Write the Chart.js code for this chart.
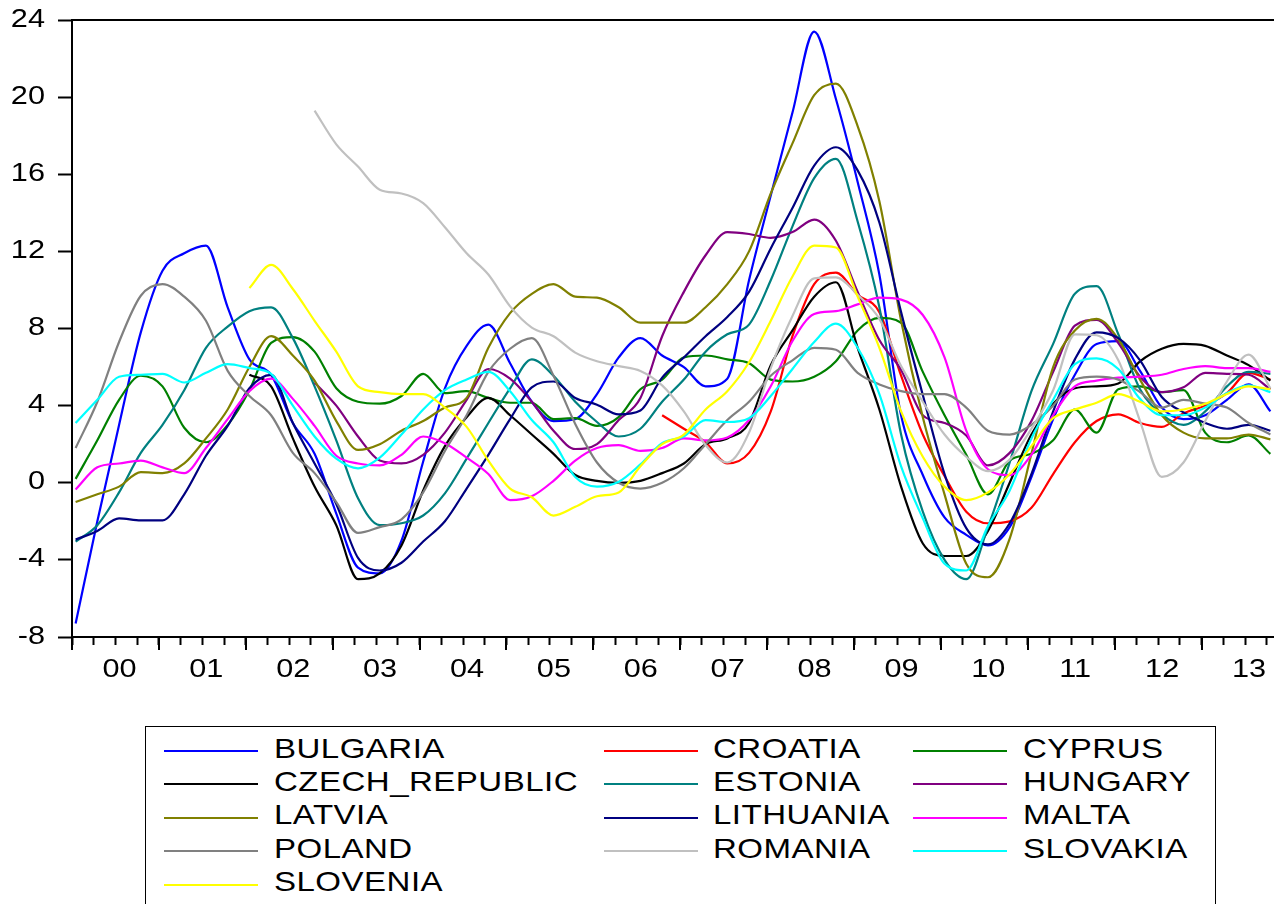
<!DOCTYPE html>
<html>
<head>
<meta charset="utf-8">
<script src="https://cdn.jsdelivr.net/npm/chart.js@4.4.1/dist/chart.umd.min.js"></script>
<style>
  html, body { margin: 0; padding: 0; background: #fff; }
  #wrap { position: relative; width: 1274px; height: 904px; overflow: hidden; }
  #chart { position: absolute; left: 0; top: 0; }
  #legendBox { position: absolute; left: 145px; top: 726px; width: 1071px; height: 220px;
               border: 1.5px solid #000; box-sizing: border-box; }
  .key { position: absolute; height: 2px; width: 94px; }
  .name { position: absolute; font: 28px "Liberation Sans", Arial, sans-serif; line-height: 28px;
          white-space: nowrap; color: #000; transform: scaleX(1.18); transform-origin: 0 0; letter-spacing: 0.4px; }
</style>
</head>
<body>
<div id="wrap">
  <canvas id="chart" width="1274" height="700"></canvas>
  <div id="legendBox"></div>
</div>
<script>
// quarterly observations (first month of each quarter)
const periods = [
  '2000-01','2000-04','2000-07','2000-10', '2001-01','2001-04','2001-07','2001-10',
  '2002-01','2002-04','2002-07','2002-10', '2003-01','2003-04','2003-07','2003-10',
  '2004-01','2004-04','2004-07','2004-10', '2005-01','2005-04','2005-07','2005-10',
  '2006-01','2006-04','2006-07','2006-10', '2007-01','2007-04','2007-07','2007-10',
  '2008-01','2008-04','2008-07','2008-10', '2009-01','2009-04','2009-07','2009-10',
  '2010-01','2010-04','2010-07','2010-10', '2011-01','2011-04','2011-07','2011-10',
  '2012-01','2012-04','2012-07','2012-10', '2013-01','2013-04','2013-07','2013-10'
];
const years = [2000,2001,2002,2003,2004,2005,2006,2007,2008,2009,2010,2011,2012,2013];
const yearLabels = ['00','01','02','03','04','05','06','07','08','09','10','11','12','13'];
const yTicks = [-8,-4,0,4,8,12,16,20,24];

const bulgaria = [-7.3,-2.0,3.0,7.8, 11.0,11.9,12.3,9.1, 6.4,5.6,3.1,1.5, -1.6,-4.4,-4.7,-3.0,
  1.1,4.9,7.1,8.2, 6.2,4.2,3.2,3.3, 4.6,6.5,7.5,6.6, 6.0,5.0,5.4,10.5, 14.9,19.2,23.4,19.9,
  15.6,10.8,3.5,0.4, -1.8,-2.7,-3.25,-2.3, 0.3,3.3,5.6,7.2, 7.35,5.8,3.9,3.3, 3.5,4.3,5.1,3.7];
const croatia = [null,null,null,null, null,null,null,null, null,null,null,null, null,null,null,null,
  null,null,null,null, null,null,null,null, null,null,null,3.5, 2.8,2.1,1.0,1.55, 3.7,7.6,10.3,10.9,
  9.75,8.85,5.55,2.5, 0.35,-1.5,-2.1,-2.0, -1.3,0.45,2.1,3.2, 3.55,3.1,2.9,3.6, 4.0,4.65,5.7,5.35];
const cyprus = [0.2,2.2,4.3,5.55, 5.0,2.85,2.1,3.0, 4.8,7.25,7.55,6.8, 4.9,4.2,4.1,4.5,
  5.65,4.65,4.75,4.4, 4.15,4.15,3.3,3.35, 2.95,3.4,4.85,5.35, 6.5,6.6,6.4,6.2, 5.35,5.25,5.5,6.3,
  7.9,8.55,8.3,5.75, 3.5,1.45,-0.6,1.15, 1.5,2.2,3.8,2.6, 4.85,5.0,4.7,4.8, 2.6,2.1,2.45,1.5];
const czechRepublic = [null,null,null,null, null,null,null,null, 5.6,5.0,2.3,-0.2, -2.2,-5.0,-4.7,-3.25,
  -0.4,1.9,3.4,4.4, 3.5,2.5,1.5,0.4, 0.1,0.0,0.1,0.5, 1.0,2.0,2.3,3.1, 6.1,7.9,9.65,10.4,
  7.0,3.8,-0.2,-3.15, -3.8,-3.8,-2.5,0.0, 2.5,4.1,4.9,5.0, 5.15,6.3,6.95,7.2, 7.1,6.6,6.1,5.3];
const estonia = [-3.05,-2.2,-0.5,1.55, 3.0,4.8,7.0,8.1, 8.9,9.1,7.5,5.0, 2.2,-0.8,-2.2,-2.1,
  -1.7,-0.55,1.25,3.1, 4.9,6.4,5.55,4.2, 3.15,2.4,2.8,4.2, 5.35,6.8,7.7,8.2, 10.5,13.3,15.8,16.8,
  13.55,9.1,2.5,-1.5, -4.0,-5.0,-2.3,1.05, 4.75,7.2,9.8,10.2, 7.7,4.85,3.55,3.0, 3.7,5.0,5.75,5.65];
const hungary = [null,null,null,null, null,null,null,null, null,null,null,5.2, 4.0,2.4,1.15,1.0,
  1.45,2.6,4.3,5.9, 5.4,4.2,2.7,1.75, 2.0,3.25,4.4,7.6, 9.9,11.8,13.0,12.9, 12.7,13.0,13.65,12.55,
  9.9,7.4,5.85,3.5, 3.1,2.45,0.9,1.55, 3.2,5.75,8.15,8.45, 7.25,5.5,4.7,4.95, 5.7,5.65,5.6,4.85];
const latvia = [-1.0,-0.6,-0.2,0.55, 0.5,1.0,2.3,3.8, 6.0,7.6,6.6,5.3, 3.2,1.7,2.0,2.7,
  3.2,3.9,4.4,7.0, 8.8,9.8,10.3,9.65, 9.6,9.1,8.3,8.3, 8.3,9.1,10.3,12.0, 15.0,17.6,20.1,20.7,
  18.5,14.6,8.4,3.4, -0.6,-4.2,-4.9,-2.9, 1.5,6.0,7.9,8.5, 7.45,5.35,3.5,2.6, 2.3,2.3,2.5,2.25];
const lithuania = [-2.95,-2.5,-1.85,-1.95, -1.95,-0.6,1.4,2.95, 4.9,5.6,3.1,1.0, -1.1,-3.9,-4.55,-4.15,
  -3.05,-2.0,-0.3,1.45, 3.3,4.95,5.25,4.4, 4.05,3.55,3.75,5.45, 6.5,7.6,8.6,9.9, 12.15,14.25,16.45,17.4,
  16.2,13.5,8.85,4.55, 0.45,-2.35,-3.2,-2.1, 0.45,3.7,6.4,7.8, 7.5,6.35,4.45,3.65, 3.1,2.8,3.0,2.7];
const malta = [-0.35,0.8,1.0,1.15, 0.8,0.5,1.8,3.3, 4.75,5.4,4.35,2.95, 1.4,1.0,0.9,1.45,
  2.4,2.05,1.3,0.45, -0.9,-0.7,0.1,1.15, 1.8,1.95,1.65,1.8, 2.3,2.2,2.35,3.25, 5.0,7.35,8.75,8.9,
  9.25,9.6,9.5,8.7, 6.5,2.7,0.7,0.4, 1.45,3.5,5.0,5.3, 5.45,5.5,5.6,5.9, 6.05,5.95,5.95,5.75];
const poland = [1.8,4.2,7.3,9.7, 10.3,9.65,8.4,5.8, 4.5,3.5,1.55,0.5, -1.0,-2.6,-2.3,-1.9,
  -0.5,1.65,3.5,5.75, 6.95,7.5,5.55,3.05, 1.05,0.0,-0.3,0.0, 0.75,2.0,3.25,4.2, 5.55,6.35,7.0,6.9,
  5.7,5.1,4.75,4.6, 4.6,3.9,2.7,2.5, 3.0,4.0,5.35,5.5, 5.35,4.7,3.9,4.3, 4.1,3.9,3.1,2.5];
const romania = [null,null,null,null, null,null,null,null, null,null,null,19.3, 17.55,16.4,15.2,15.0,
  14.5,13.25,11.9,10.8, 9.15,8.05,7.6,6.75, 6.3,6.05,5.8,5.05, 3.7,1.95,1.05,2.6, 5.95,8.65,10.6,10.65,
  9.75,8.5,6.05,4.2, 2.5,1.35,0.6,1.2, 2.8,4.8,7.7,7.65, 6.35,3.2,0.3,1.05, 3.2,5.25,6.65,4.9];
const slovakia = [3.1,4.3,5.5,5.6, 5.65,5.2,5.7,6.15, 5.95,5.65,4.0,2.4, 1.25,0.75,1.3,2.5,
  3.8,4.8,5.35,5.75, 4.75,3.25,2.1,0.3, -0.2,0.05,0.95,2.05, 2.4,3.25,3.15,3.35, 4.5,5.9,7.3,8.25,
  7.0,4.6,0.85,-1.85, -4.2,-4.55,-2.25,-0.4, 2.3,4.3,6.15,6.45, 5.9,4.35,3.5,3.5, 3.9,4.65,5.05,4.7];
const slovenia = [null,null,null,null, null,null,null,null, 10.1,11.3,10.05,8.4, 6.8,5.0,4.7,4.6,
  4.6,3.9,2.9,1.15, -0.3,-0.75,-1.7,-1.25, -0.7,-0.5,0.85,2.0, 2.5,3.8,4.75,6.25, 8.4,10.7,12.3,12.2,
  9.65,7.0,3.7,1.35, -0.2,-0.9,-0.5,0.45, 1.9,3.35,3.8,4.15, 4.6,4.2,3.7,3.8, 4.1,4.6,5.0,4.85];

const series = [
  { name: 'BULGARIA',       color: '#0000ff', values: bulgaria },
  { name: 'CROATIA',        color: '#ff0000', values: croatia },
  { name: 'CYPRUS',         color: '#008000', values: cyprus },
  { name: 'CZECH_REPUBLIC', color: '#000000', values: czechRepublic },
  { name: 'ESTONIA',        color: '#008080', values: estonia },
  { name: 'HUNGARY',        color: '#800080', values: hungary },
  { name: 'LATVIA',         color: '#808000', values: latvia },
  { name: 'LITHUANIA',      color: '#000080', values: lithuania },
  { name: 'MALTA',          color: '#ff00ff', values: malta },
  { name: 'POLAND',         color: '#808080', values: poland },
  { name: 'ROMANIA',        color: '#c0c0c0', values: romania },
  { name: 'SLOVAKIA',       color: '#00ffff', values: slovakia },
  { name: 'SLOVENIA',       color: '#ffff00', values: slovenia }
];

// month centre as decimal year
function toYear(p) {
  const [y, m] = p.split('-').map(Number);
  return y + (m - 0.5) / 12;
}

const quarterTicks = [];
years.forEach(y => { [0, 0.25, 0.5, 0.75].forEach(q => quarterTicks.push(y + q)); });

const FONT = '26px "Liberation Sans", Arial, sans-serif';
const STRETCH = 1.18;

function stretchedText(ctx, text, x, y, align) {
  ctx.save();
  ctx.translate(x, y);
  ctx.scale(STRETCH, 1);
  ctx.textAlign = align;
  ctx.textBaseline = 'alphabetic';
  ctx.fillText(text, 0, 0);
  ctx.restore();
}

// frame top, long year ticks and the axis labels
const axisExtras = {
  id: 'axisExtras',
  afterDraw(chart) {
    const { ctx, chartArea: a, scales } = chart;
    const xs = scales.x, ys = scales.y;
    ctx.save();
    ctx.strokeStyle = '#000';
    ctx.lineWidth = 2;
    ctx.beginPath();
    ctx.moveTo(a.left - 1, a.top);
    ctx.lineTo(a.right, a.top);
    years.forEach(y => {
      const px = Math.round(xs.getPixelForValue(y));
      ctx.moveTo(px, a.bottom);
      ctx.lineTo(px, a.bottom + 13);
    });
    ctx.stroke();

    ctx.fillStyle = '#000';
    ctx.font = FONT;
    yTicks.forEach(v => {
      stretchedText(ctx, String(v), 45, ys.getPixelForValue(v) + 6.5, 'right');
    });
    years.forEach((y, i) => {
      const px = xs.getPixelForValue(y + 0.5) + 4;
      if (px < a.right) stretchedText(ctx, yearLabels[i], px, 677, 'center');
    });
    ctx.restore();
  }
};

new Chart(document.getElementById('chart'), {
  type: 'line',
  data: {
    datasets: series.map((s, i) => ({
      label: s.name,
      data: periods.map((p, k) => ({ x: toYear(p), y: s.values[k] })),
      borderColor: s.color,
      borderWidth: 2.2,
      pointRadius: 0,
      fill: false,
      cubicInterpolationMode: 'monotone',
      order: series.length - i
    }))
  },
  options: {
    responsive: false,
    animation: false,
    layout: { padding: { top: 20, left: 0, right: 0, bottom: 0 } },
    plugins: { legend: { display: false }, tooltip: { enabled: false } },
    scales: {
      x: {
        type: 'linear',
        min: 2000,
        max: 2013 + 10 / 12,
        afterFit: s => { s.height = 63; },
        afterBuildTicks: s => { s.ticks = quarterTicks.map(v => ({ value: v })); },
        ticks: { display: false },
        grid: { display: true, drawOnChartArea: false, drawTicks: true, tickLength: 8, tickWidth: 2, tickColor: '#000' },
        border: { display: true, color: '#000', width: 2 }
      },
      y: {
        min: -8,
        max: 24,
        afterFit: s => { s.width = 72; },
        afterBuildTicks: s => { s.ticks = yTicks.map(v => ({ value: v })); },
        ticks: { display: false },
        grid: { display: true, drawOnChartArea: false, drawTicks: true, tickLength: 14, tickWidth: 2, tickColor: '#000' },
        border: { display: true, color: '#000', width: 2 }
      }
    }
  },
  plugins: [axisExtras]
});

// legend: three columns, filled row by row
const wrap = document.getElementById('wrap');
const keyX = [164, 604, 913];
const nameX = [274, 713, 1023];
series.forEach((s, i) => {
  const col = i % 3, row = Math.floor(i / 3);
  const key = document.createElement('div');
  key.className = 'key';
  key.style.left = keyX[col] + 'px';
  key.style.top = (750 + row * 33.4) + 'px';
  key.style.background = s.color;
  wrap.appendChild(key);
  const label = document.createElement('div');
  label.className = 'name';
  label.style.left = nameX[col] + 'px';
  label.style.top = (734.6 + row * 33.4) + 'px';
  label.textContent = s.name;
  wrap.appendChild(label);
});
</script>
</body>
</html>
